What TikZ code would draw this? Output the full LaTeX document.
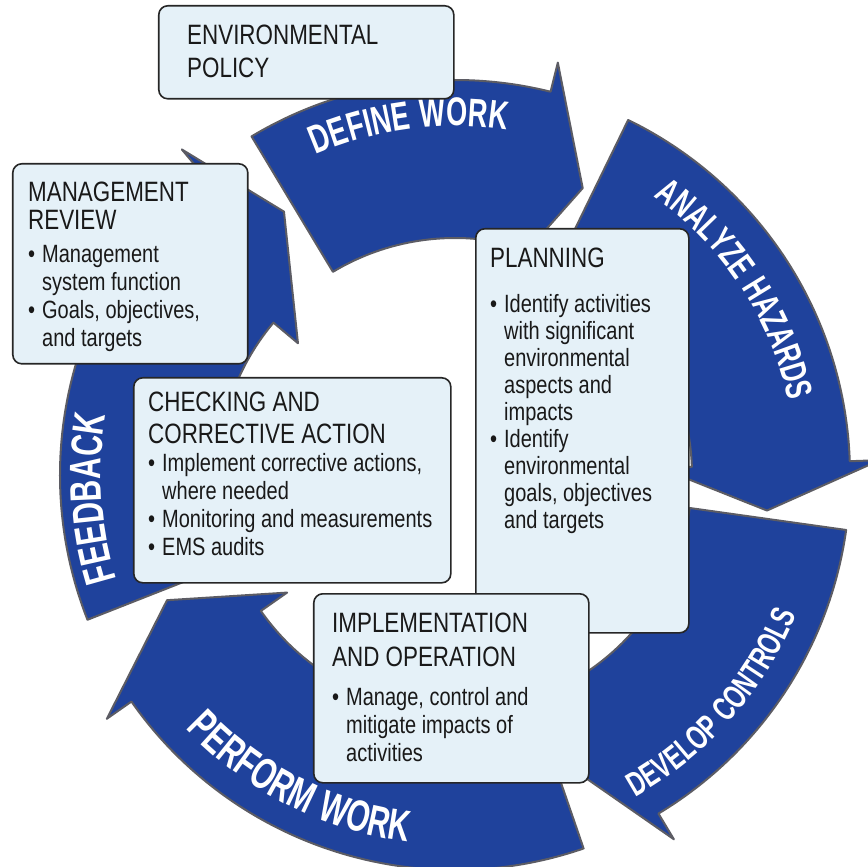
\documentclass[tikz,border=0pt]{standalone}
\usepackage{fontspec}
\setmainfont{Liberation Sans}[FakeStretch=0.8]
\newfontfamily\arcfam{Liberation Sans}[FakeStretch=0.68, LetterSpace=4]
\usetikzlibrary{decorations.text}
\definecolor{ringblue}{RGB}{31,66,156}
\definecolor{ringedge}{RGB}{92,92,100}
\definecolor{boxfill}{RGB}{229,241,248}
\newcommand{\hd}[1]{{\fontsize{28}{28}\selectfont #1}}
\newcommand{\itm}{\makebox[14pt][l]{\textbullet}}
\newcommand{\ind}{\hspace*{14pt}}
% one arrow of the ring: tail, inner barb, outer barb, tip (angles)
\newcommand{\ringarrow}[4]{%
  \draw[ringarrow] (#1:\rin) arc[start angle=#1, end angle=#2, radius=\rin]
    -- (#2:\rbin) -- (#4:\rtip) -- (#3:\rbout) -- (#3:\rout)
    arc[start angle=#3, end angle=#1, radius=\rout] -- cycle;}
\begin{document}
\begin{tikzpicture}[x=1pt, y=1pt, line join=round,
  ringarrow/.style={fill=ringblue, draw=ringedge, line width=2pt},
  box/.style={draw=black!85, fill=boxfill, line width=1.6pt, rounded corners=9pt, inner sep=0pt, anchor=north west},
  txt/.style={align=left, inner sep=0pt, anchor=north west, font=\fontsize{25}{28}\selectfont, text=black!90},
  arclabel/.style 2 args={decorate, decoration={text along path, text align=center, text color=white,
    text={|\arcfam\fontsize{#1}{#1}\selectfont\bfseries|#2}}}]
\useasboundingbox (-455,-392) rectangle (412,475);
\def\rin{237} % inner radius of the ring
\def\rout{395} % outer radius
\def\rbin{205} \def\rbout{425} \def\rtip{314}
\ringarrow{121}{76}{76}{66}        % define work
\ringarrow{64}{2}{2}{-6.5}         % analyze hazards
\ringarrow{-8}{-59}{-59}{-68.5}    % develop controls
\ringarrow{289}{215}{215}{203.5}   % perform work
\ringarrow{201.5}{140}{130}{123}   % feedback
\path[arclabel={40}{DEFINE WORK}] (118:349) arc[start angle=118, end angle=77, radius=349];
\path[arclabel={37}{ANALYZE HAZARDS}] (60:342) arc[start angle=60, end angle=7, radius=342];
\path[arclabel={44}{FEEDBACK}] (203:354) arc[start angle=203, end angle=164.4, radius=354];
\path[arclabel={34}{DEVELOP CONTROLS}] (-66:369) arc[start angle=-66, end angle=-17, radius=369];
\path[arclabel={44}{PERFORM WORK}] (218:370) arc[start angle=218, end angle=268, radius=370];
% boxes
\node[box, minimum width=213pt, minimum height=404pt] (plan) at (20,247) {};
\node[box, minimum width=275pt, minimum height=189pt] (impl) at (-142,-118) {};
\node[box, minimum width=317pt, minimum height=205pt] (check) at (-322,98) {};
\node[box, minimum width=235pt, minimum height=200pt] (mgmt) at (-443,312) {};
\node[box, minimum width=295pt, minimum height=93pt] (env) at (-297,470) {};
\node[txt] (envtxt) at ([shift={(29,-20)}]env.north west) {\hd{ENVIRONMENTAL}\\[5pt]\hd{POLICY}};
\node[txt] (mgmttxt) at ([shift={(16,-19)}]mgmt.north west)
  {\hd{MANAGEMENT}\\\hd{REVIEW}\\[5pt]\itm Management\\\ind system function\\\itm Goals, objectives,\\\ind and targets};
\node[txt] (checktxt) at ([shift={(15,-15)}]check.north west)
  {\hd{CHECKING AND}\\[4pt]\hd{CORRECTIVE ACTION}\\\itm Implement corrective actions,\\\ind where needed\\\itm Monitoring and measurements\\\itm EMS audits};
\node[txt, font=\fontsize{25}{27}\selectfont] (plantxt) at ([shift={(15,-20)}]plan.north west)
  {\hd{PLANNING}\\[18pt]\itm Identify activities\\\ind with significant\\\ind environmental\\\ind aspects and\\\ind impacts\\\itm Identify\\\ind environmental\\\ind goals, objectives\\\ind and targets};
\node[txt] (impltxt) at ([shift={(19,-20)}]impl.north west)
  {\hd{IMPLEMENTATION}\\[6pt]\hd{AND OPERATION}\\[11pt]\itm Manage, control and\\\ind mitigate impacts of\\\ind activities};
\end{tikzpicture}
\end{document}
